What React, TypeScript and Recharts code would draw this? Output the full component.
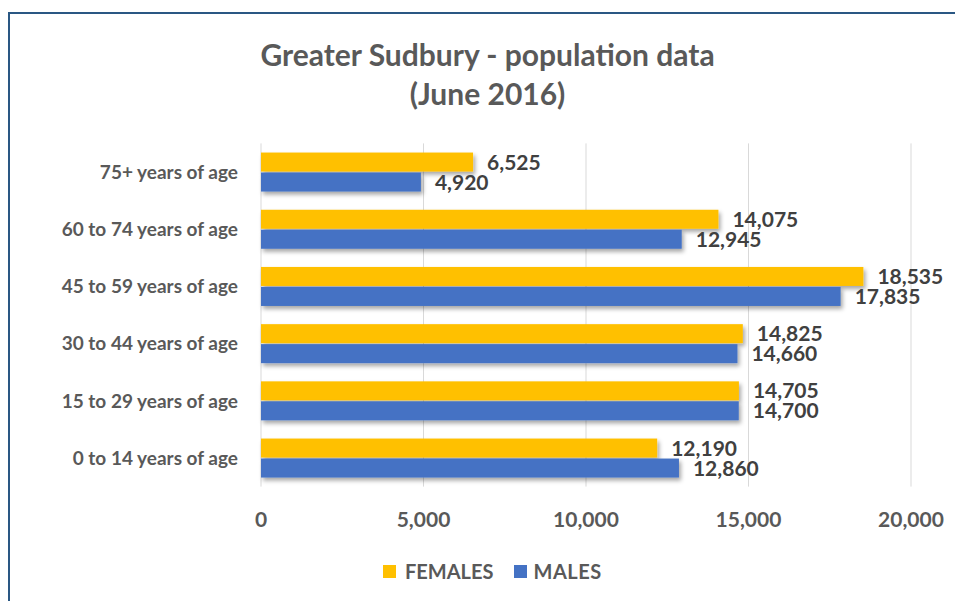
import { BarChart, Bar, XAxis, YAxis, CartesianGrid, LabelList } from "recharts";

const categories = [
  "75+ years of age",
  "60 to 74 years of age",
  "45 to 59 years of age",
  "30 to 44 years of age",
  "15 to 29 years of age",
  "0 to 14 years of age",
];
const females = [6525, 14075, 18535, 14825, 14705, 12190];
const males = [4920, 12945, 17835, 14660, 14700, 12860];
const xTicks = [0, 5000, 10000, 15000, 20000];

const FEMALE = "#FFC000";
const MALE = "#4472C4";
const TEXT = "#595959";
const FONT = "Lato, 'Open Sans', sans-serif";

const rows = categories.map((c, i) => ({ age: c, females: females[i], males: males[i] }));

const fmt = (v: number) => v.toLocaleString("en-US");

const shadowBar = (p: any) => (
  <rect x={p.x} y={p.y} width={p.width} height={p.height} fill={p.fill} filter="url(#barShadow)" />
);

export default function App() {
  return (
    <div style={{ position: "fixed", left: 8, top: 12, right: 0, bottom: 0, overflow: "hidden" }}>
      <div
        style={{
          position: "absolute",
          left: 0,
          top: 0,
          width: 980,
          height: 620,
          border: "2px solid #2a5783",
          boxSizing: "border-box",
          background: "#fff",
          fontFamily: FONT,
        }}
      >
        <div
          style={{
            position: "absolute",
            left: 0,
            top: 21,
            width: 955,
            textAlign: "center",
            color: TEXT,
            fontSize: 30,
            fontWeight: 700,
            lineHeight: "39px",
          }}
        >
          Greater Sudbury - population data
          <br />
          (June 2016)
        </div>
        <div style={{ position: "absolute", left: -2, top: -2 }}>
          <BarChart
            width={947}
            height={589}
            data={rows}
            layout="vertical"
            margin={{ top: 131.4, right: 44, bottom: 74.4, left: 0 }}
            barCategoryGap="16%"
            barGap={1}
          >
            <defs>
              <filter id="barShadow" x="-10%" y="-30%" width="130%" height="190%">
                <feDropShadow dx="2" dy="3" stdDeviation="2" floodColor="#000" floodOpacity="0.35" />
              </filter>
            </defs>
            <CartesianGrid horizontal={false} stroke="#d9d9d9" />
            <XAxis
              type="number"
              domain={[0, 20000]}
              ticks={xTicks}
              tickFormatter={fmt}
              axisLine={false}
              tickLine={false}
              tickSize={0}
              tickMargin={25}
              height={40}
              tick={{ fill: TEXT, fontSize: 21, fontWeight: 700, fontFamily: FONT }}
            />
            <YAxis
              type="category"
              dataKey="age"
              width={253}
              axisLine={false}
              tickLine={false}
              tickSize={0}
              tickMargin={23}
              tick={{ fill: TEXT, fontSize: 19, fontWeight: 700, fontFamily: FONT }}
            />
            <Bar dataKey="females" fill={FEMALE} isAnimationActive={false} shape={shadowBar}>
              <LabelList
                dataKey="females"
                position="right"
                offset={14}
                formatter={(v: any) => fmt(Number(v))}
                style={{ fill: "#404040", fontSize: 21, fontWeight: 700, fontFamily: FONT }}
              />
            </Bar>
            <Bar dataKey="males" fill={MALE} isAnimationActive={false} shape={shadowBar}>
              <LabelList
                dataKey="males"
                position="right"
                offset={14}
                formatter={(v: any) => fmt(Number(v))}
                style={{ fill: "#404040", fontSize: 21, fontWeight: 700, fontFamily: FONT }}
              />
            </Bar>
          </BarChart>
        </div>
        <div
          style={{
            position: "absolute",
            left: 373,
            top: 545,
            display: "flex",
            alignItems: "center",
            color: TEXT,
            fontSize: 20,
            fontWeight: 700,
            lineHeight: "24px",
          }}
        >
          <span style={{ width: 13, height: 13, background: FEMALE, marginRight: 9, display: "inline-block" }} />
          <span style={{ marginRight: 21 }}>FEMALES</span>
          <span style={{ width: 13, height: 13, background: MALE, marginRight: 6, display: "inline-block" }} />
          <span style={{ letterSpacing: 0.5 }}>MALES</span>
        </div>
      </div>
    </div>
  );
}
